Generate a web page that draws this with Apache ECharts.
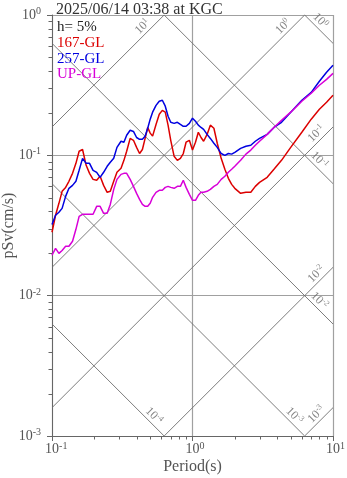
<!DOCTYPE html>
<html>
<head>
<meta charset="utf-8">
<script src="https://cdn.jsdelivr.net/npm/echarts@6/dist/echarts.min.js"></script>
<style>
  html, body { margin: 0; padding: 0; background: #fff; }
  #chart { width: 347px; height: 478px; }
</style>
</head>
<body>
<div id="chart"></div>
<script>
// Pseudo-velocity response spectra (h = 5%), tripartite log-log layout.
const titleText = '2025/06/14 03:38 at KGC';
const dampingText = 'h= 5%';

const periods = [0.1,0.106,0.112,0.118,0.125,0.132,0.14,0.148,0.156,0.165,0.175,0.185,0.196,0.208,0.22,0.233,0.247,0.26,0.275,0.29,0.31,0.325,0.34,0.36,0.38,0.4,0.42,0.44,0.46,0.48,0.5,0.52,0.55,0.58,0.61,0.64,0.67,0.7,0.74,0.78,0.82,0.86,0.9,0.95,1.0,1.05,1.1,1.15,1.2,1.27,1.34,1.42,1.5,1.6,1.7,1.8,1.9,2.0,2.2,2.4,2.6,2.8,3.0,3.4,3.8,4.3,5.0,6.0,7.0,8.0,9.0,10];

const psv167 = [0.0283,0.0374,0.0455,0.0554,0.0591,0.0653,0.0744,0.0877,0.107,0.110,0.0849,0.0744,0.0674,0.0664,0.0709,0.0611,0.0545,0.0554,0.0653,0.0757,0.0808,0.0921,0.107,0.132,0.128,0.114,0.103,0.110,0.132,0.158,0.144,0.137,0.166,0.196,0.209,0.203,0.164,0.128,0.0984,0.0921,0.0952,0.103,0.124,0.128,0.109,0.124,0.146,0.134,0.126,0.141,0.164,0.156,0.122,0.0952,0.0795,0.0686,0.0621,0.0582,0.0536,0.0545,0.0545,0.0601,0.0642,0.0697,0.0795,0.0921,0.114,0.146,0.181,0.213,0.239,0.268];

const psv257 = [0.0322,0.0374,0.0393,0.0419,0.0510,0.0582,0.0611,0.0653,0.0782,0.0952,0.0877,0.0877,0.0782,0.0757,0.0697,0.0757,0.0835,0.0892,0.0952,0.114,0.126,0.124,0.139,0.151,0.148,0.134,0.130,0.130,0.137,0.156,0.181,0.203,0.227,0.243,0.247,0.224,0.190,0.172,0.169,0.172,0.166,0.161,0.161,0.169,0.184,0.175,0.164,0.158,0.153,0.141,0.132,0.122,0.114,0.103,0.100,0.103,0.102,0.105,0.112,0.116,0.118,0.126,0.132,0.141,0.158,0.172,0.203,0.247,0.281,0.337,0.391,0.438];

const psvUP = [0.0194,0.0217,0.0200,0.0210,0.0225,0.0225,0.0244,0.0297,0.0367,0.0380,0.0380,0.0380,0.0380,0.0433,0.0433,0.0386,0.0386,0.0447,0.0572,0.0674,0.0732,0.0744,0.0744,0.0674,0.0601,0.0536,0.0486,0.0447,0.0433,0.0433,0.0455,0.0502,0.0545,0.0563,0.0563,0.0591,0.0601,0.0591,0.0582,0.0601,0.0601,0.0664,0.0591,0.0527,0.0478,0.0478,0.0519,0.0545,0.0545,0.0554,0.0572,0.0601,0.0621,0.0674,0.0709,0.0757,0.0795,0.0835,0.0921,0.102,0.109,0.118,0.126,0.141,0.158,0.178,0.203,0.243,0.277,0.316,0.348,0.384];

const seriesNames = ['167-GL', '257-GL', 'UP-GL'];
const seriesValues = [psv167, psv257, psvUP];
const seriesColors = ['#dc0000', '#0000e0', '#d800d8'];

// Axis ranges and decade labels (exponents of ten)
const periodRange = [0.1, 10];
const psvRange = [0.001, 1];
const xTickExps = [-1, 0, 1];
const yTickExps = [-3, -2, -1, 0];
const minorSteps = [2, 3, 4, 5, 6, 7, 8, 9];

// Tripartite reference lines: displacement (cm) and acceleration (cm/s^2)
const dispLevels = [1e-4, 1e-3, 1e-2, 1e-1, 1];
const accLevels = [1e-3, 1e-2, 1e-1, 1, 10];

const F = '"Liberation Serif", "Times New Roman", serif';
const AXIS_GREY = '#555';

const LT = [Math.log10(periodRange[0]), Math.log10(periodRange[1])];
const LV = [Math.log10(psvRange[0]), Math.log10(psvRange[1])];

// Displacement: pSv = 2*pi*D / T  -> log v = c - log T
function dispLine(D) {
  const c = Math.log10(2 * Math.PI * D);
  const t1 = Math.max(LT[0], c - LV[1]);
  const t2 = Math.min(LT[1], c - LV[0]);
  const back = t2 >= LT[1] - 1e-9 ? 0.085 : 0.062;
  const tl = t2 - back;
  return {
    seg: [[10 ** t1, 10 ** (c - t1)], [10 ** t2, 10 ** (c - t2)]],
    lab: [10 ** tl, 10 ** (c - tl)],
    exp: Math.round(Math.log10(D)),
    rot: -45
  };
}
// Acceleration: pSv = A*T / (2*pi)  -> log v = c + log T
function accLine(A) {
  const c = Math.log10(A / (2 * Math.PI));
  const t1 = Math.max(LT[0], LV[0] - c);
  const t2 = Math.min(LT[1], LV[1] - c);
  const back = t2 >= LT[1] - 1e-9 ? 0.036 : 0.078;
  const tl = t2 - back;
  return {
    seg: [[10 ** t1, 10 ** (c + t1)], [10 ** t2, 10 ** (c + t2)]],
    lab: [10 ** tl, 10 ** (c + tl)],
    exp: Math.round(Math.log10(A)),
    rot: 45
  };
}
const refLines = dispLevels.map(dispLine).concat(accLevels.map(accLine));

const refSeries = refLines.map(r => ({
  type: 'line', data: r.seg, showSymbol: false, silent: true, z: 1,
  lineStyle: { color: '#6e6e6e', width: 0.9 }, animation: false
}));

const refLabelSeries = {
  type: 'scatter', silent: true, z: 2, symbolSize: 0.1,
  itemStyle: { color: 'rgba(0,0,0,0)' },
  data: refLines.map(r => ({
    value: r.lab,
    label: {
      show: true, position: 'inside', rotate: r.rot,
      align: 'right', verticalAlign: 'bottom',
      formatter: '{b|10}{s|' + r.exp + '}',
      rich: {
        b: { fontFamily: F, fontSize: 12, lineHeight: 14, color: '#666' },
        s: { fontFamily: F, fontSize: 8, lineHeight: 8, verticalAlign: 'top', color: '#666' }
      }
    }
  }))
};

const curveSeries = seriesNames.map((name, i) => ({
  name, type: 'line', z: 3, showSymbol: false, silent: true,
  data: periods.map((t, k) => [t, seriesValues[i][k]]),
  lineStyle: { color: seriesColors[i], width: 1.5 },
  itemStyle: { color: seriesColors[i] }
}));

// Minor ticks at 2..9 within each decade
const xMinor = [];
for (let e = xTickExps[0]; e < xTickExps[xTickExps.length - 1]; e++) minorSteps.forEach(m => xMinor.push(m * 10 ** e));
const yMinor = [];
for (let e = yTickExps[0]; e < yTickExps[yTickExps.length - 1]; e++) minorSteps.forEach(m => yMinor.push(m * 10 ** e));

const minorTickSeries = [
  {
    type: 'custom', silent: true, clip: false, z: 4,
    data: xMinor.map(t => [t, psvRange[0]]),
    renderItem: (p, api) => {
      const c = api.coord([api.value(0), api.value(1)]);
      const x = Math.round(c[0]) + 0.5;
      return { type: 'line', shape: { x1: x, y1: c[1], x2: x, y2: c[1] + 3.5 }, style: { stroke: '#666', lineWidth: 1 } };
    }
  },
  {
    type: 'custom', silent: true, clip: false, z: 4,
    data: yMinor.map(v => [periodRange[0], v]),
    renderItem: (p, api) => {
      const c = api.coord([api.value(0), api.value(1)]);
      const y = Math.round(c[1]) + 0.5;
      return { type: 'line', shape: { x1: c[0], y1: y, x2: c[0] - 3.5, y2: y }, style: { stroke: '#666', lineWidth: 1 } };
    }
  }
];

const expOf = v => Math.round(Math.log10(v));
const tickRich = {
  b: { fontFamily: F, fontSize: 14, lineHeight: 17, color: AXIS_GREY },
  s: { fontFamily: F, fontSize: 10, lineHeight: 10, verticalAlign: 'top', color: AXIS_GREY },
  p1: { fontFamily: F, fontSize: 10, width: 5 },
  p2: { fontFamily: F, fontSize: 10, width: 8.5 }
};

const chart = echarts.init(document.getElementById('chart'), null, { renderer: 'canvas' });
chart.setOption({
  animation: false,
  backgroundColor: '#fff',
  title: {
    text: titleText, left: 51, top: -3,
    textStyle: { fontFamily: F, fontSize: 16, fontWeight: 'normal', color: '#333' }
  },
  grid: { left: 52, right: 14, top: 15, bottom: 42, containLabel: false, outerBoundsMode: 'none' },
  xAxis: {
    type: 'log', logBase: 10, min: periodRange[0], max: periodRange[1],
    name: 'Period(s)', nameLocation: 'middle', nameGap: 23, nameMoveOverlap: false,
    nameTextStyle: { fontFamily: F, fontSize: 16, color: AXIS_GREY },
    axisLine: { show: true, lineStyle: { color: '#666', width: 1 } },
    axisTick: { show: true, inside: false, length: 5, lineStyle: { color: '#666' } },
    axisLabel: {
      margin: 5,
      formatter: v => {
        const e = String(xTickExps.find(x => x === expOf(v)));
        return '{p' + e.length + '| }{b|10}{s|' + e + '}';
      },
      rich: tickRich
    },
    splitLine: { show: true, lineStyle: { color: '#a0a0a0', width: 1.2 } }
  },
  yAxis: {
    type: 'log', logBase: 10, min: psvRange[0], max: psvRange[1],
    name: 'pSv(cm/s)', nameLocation: 'middle', nameGap: 35, nameMoveOverlap: false,
    nameTextStyle: { fontFamily: F, fontSize: 16, color: AXIS_GREY },
    axisLine: { show: true, lineStyle: { color: '#666', width: 1 } },
    axisTick: { show: true, inside: false, length: 5, lineStyle: { color: '#666' } },
    axisLabel: {
      margin: 11,
      formatter: v => '{b|10}{s|' + yTickExps.find(y => y === expOf(v)) + '}',
      rich: tickRich
    },
    splitLine: { show: true, lineStyle: { color: '#a0a0a0', width: 1.2 } }
  },
  graphic: [dampingText].concat(seriesNames).map((t, i) => ({
    type: 'text', left: 57, top: [20, 36, 51.5, 66.5][i], z: 10,
    style: { text: t, fill: i === 0 ? '#222' : seriesColors[i - 1], font: '15px ' + F }
  })),
  series: refSeries.concat([refLabelSeries], curveSeries, minorTickSeries)
});
</script>
</body>
</html>
